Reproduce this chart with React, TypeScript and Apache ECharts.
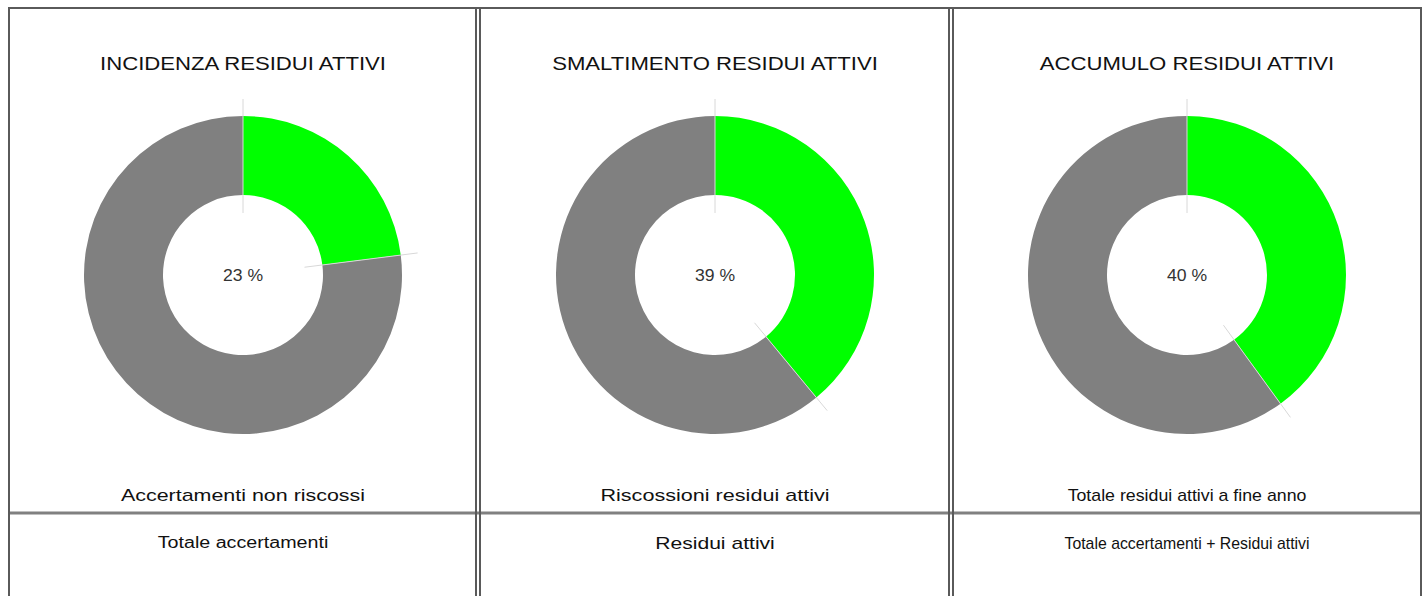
import React, { useEffect, useRef } from "react";
import * as echarts from "echarts";

const titles = ["INCIDENZA RESIDUI ATTIVI", "SMALTIMENTO RESIDUI ATTIVI", "ACCUMULO RESIDUI ATTIVI"];
const percents = [23, 39, 40];
const numeratorLabels = ["Accertamenti non riscossi", "Riscossioni residui attivi", "Totale residui attivi a fine anno"];
const denominatorLabels = ["Totale accertamenti", "Residui attivi", "Totale accertamenti + Residui attivi"];

// horizontal stretch of each text, to match the widths in the reference
const titleStretch = [1.23, 1.23, 1.23];
const numeratorStretch = [1.34, 1.35, 1.11];
const denominatorStretch = [1.23, 1.32, 0.99];

const W = 1426;
const H = 596;
const centersX = [243, 715, 1187];
const CY = 275;
const R_IN = 80;
const R_OUT = 159;
const FONT = "'Liberation Sans', Arial, sans-serif";

export default function App() {
  const ref = useRef<HTMLDivElement>(null);
  useEffect(() => {
    if (!ref.current) return;
    const chart = echarts.init(ref.current, null, { renderer: "svg" });
    const border = "#5a5a5a";
    const graphics: any[] = [];
    const line = (x1: number, y1: number, x2: number, y2: number, color: string, w: number, z = 1) => ({
      type: "line",
      z,
      silent: true,
      shape: { x1, y1, x2, y2 },
      style: { stroke: color, lineWidth: w },
    });
    // outer borders
    graphics.push(line(9, 8, 9, H + 5, border, 2));
    graphics.push(line(8, 8, 1422, 8, border, 2));
    graphics.push(line(1421, 8, 1421, H + 5, border, 2));
    // horizontal divider
    graphics.push(line(10, 513, 1420, 513, "#808080", 3));
    // vertical double dividers
    [476, 480, 949, 953].forEach((x) => graphics.push(line(x, 8, x, H + 5, border, 2, 2)));

    const text = (t: string, x: number, y: number, size: number, color: string, sx = 1) => ({
      type: "text",
      x,
      y,
      scaleX: sx,
      silent: true,
      z: 5,
      style: {
        text: t,
        x: 0,
        y: 0,
        textAlign: "center",
        textVerticalAlign: "middle",
        fill: color,
        font: `${size}px ${FONT}`,
      },
    });

    percents.forEach((p, i) => {
      const cx = centersX[i];
      graphics.push(text(titles[i], cx, 64, 18, "#111", titleStretch[i]));
      graphics.push(text(numeratorLabels[i], cx, 496, 16, "#111", numeratorStretch[i]));
      graphics.push(text(denominatorLabels[i], cx, 543, 16, "#111", denominatorStretch[i]));
      graphics.push(text(`${p} %`, cx, 276, 16, "#333", 1.1));
      [0, p].forEach((v) => {
        const a = (v / 100) * 2 * Math.PI;
        const s = Math.sin(a);
        const c = Math.cos(a);
        graphics.push(line(cx + 62 * s, CY - 62 * c, cx + 176 * s, CY - 176 * c, "#d8d8d8", 1, 10));
      });
    });

    const series = percents.map((p, i) => ({
      type: "pie",
      center: [centersX[i], CY],
      radius: [R_IN, R_OUT],
      startAngle: 90,
      clockwise: true,
      silent: true,
      label: { show: false },
      labelLine: { show: false },
      itemStyle: { borderWidth: 0 },
      data: [
        { value: p, itemStyle: { color: "#00ff00" } },
        { value: 100 - p, itemStyle: { color: "#808080" } },
      ],
    }));

    chart.setOption({
      animation: false,
      backgroundColor: "#ffffff",
      series,
      graphic: { elements: graphics },
    });
    return () => chart.dispose();
  }, []);
  return <div ref={ref} style={{ position: "fixed", left: 0, top: 0, width: W, height: H }} />;
}
